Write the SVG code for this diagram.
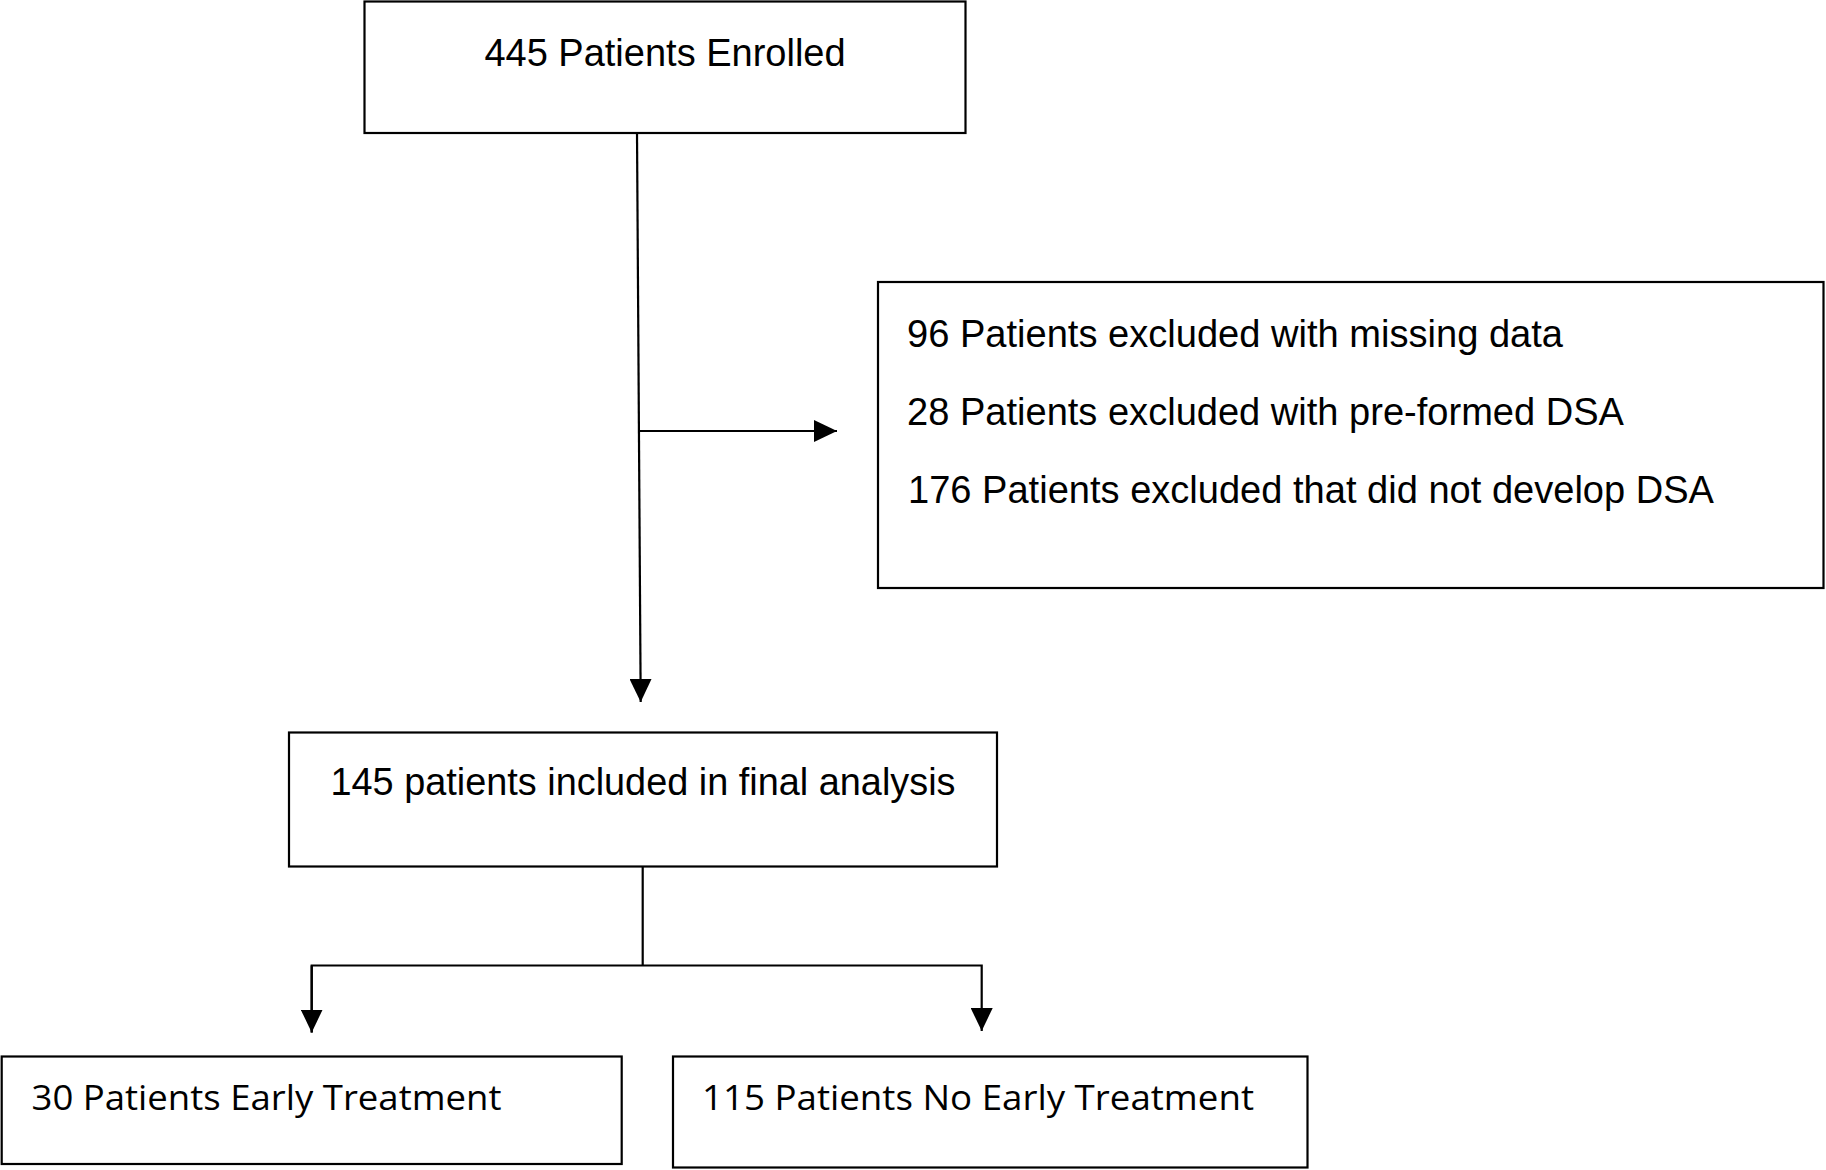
<svg xmlns="http://www.w3.org/2000/svg" width="1826" height="1170" viewBox="0 0 1826 1170">
  <style>
    .box { fill: #ffffff; stroke: #000000; stroke-width: 2.2; }
    .conn { fill: none; stroke: #000000; stroke-width: 2.2; }
    .t1 { font-family: "Liberation Sans", Arial, sans-serif; font-size: 38px; fill: #000000; }
    .t2 { font-family: "Open Sans", "Noto Sans", sans-serif; font-size: 35px; fill: #000000; }
  </style>
  <defs>
    <marker id="arrow" viewBox="0 0 23 22" refX="23" refY="11" markerWidth="23" markerHeight="22" markerUnits="userSpaceOnUse" orient="auto">
      <path d="M0,0 L23,11 L0,22 Z" fill="#000000"/>
    </marker>
  </defs>
  <rect width="1826" height="1170" fill="#ffffff"/>

  <g id="connectors">
    <line class="conn" x1="637" y1="133" x2="640.7" y2="702" marker-end="url(#arrow)"/>
    <line class="conn" x1="640" y1="431" x2="837" y2="431" marker-end="url(#arrow)"/>
    <line class="conn" x1="642.7" y1="866.5" x2="642.7" y2="965.5"/>
    <polyline class="conn" points="311.7,1032.5 311.7,965.5 981.7,965.5 981.7,1031" marker-end="url(#arrow)"/>
    <line class="conn" x1="311.7" y1="965.5" x2="311.7" y2="1032.5" marker-end="url(#arrow)"/>
  </g>

  <g id="enrolled">
    <rect class="box" x="364.5" y="1.5" width="601" height="131.5"/>
    <text class="t1" x="665" y="66" text-anchor="middle">445 Patients Enrolled</text>
  </g>

  <g id="excluded">
    <rect class="box" x="878" y="282" width="945.5" height="306"/>
    <text class="t1" x="907" y="347" textLength="656" lengthAdjust="spacingAndGlyphs">96 Patients excluded with missing data</text>
    <text class="t1" x="907" y="425" textLength="717" lengthAdjust="spacingAndGlyphs">28 Patients excluded with pre-formed DSA</text>
    <text class="t1" x="908" y="503" textLength="806" lengthAdjust="spacingAndGlyphs">176 Patients excluded that did not develop DSA</text>
  </g>

  <g id="final">
    <rect class="box" x="289" y="732.5" width="708" height="134"/>
    <text class="t1" x="643" y="795" text-anchor="middle" textLength="625" lengthAdjust="spacingAndGlyphs">145 patients included in final analysis</text>
  </g>

  <g id="early">
    <rect class="box" x="1.7" y="1056.5" width="620" height="107.5"/>
    <text class="t2" x="31.5" y="1110" textLength="470" lengthAdjust="spacingAndGlyphs">30 Patients Early Treatment</text>
  </g>

  <g id="noearly">
    <rect class="box" x="673" y="1056.5" width="634.5" height="111"/>
    <text class="t2" x="702" y="1110" textLength="552" lengthAdjust="spacingAndGlyphs">115 Patients No Early Treatment</text>
  </g>
</svg>
